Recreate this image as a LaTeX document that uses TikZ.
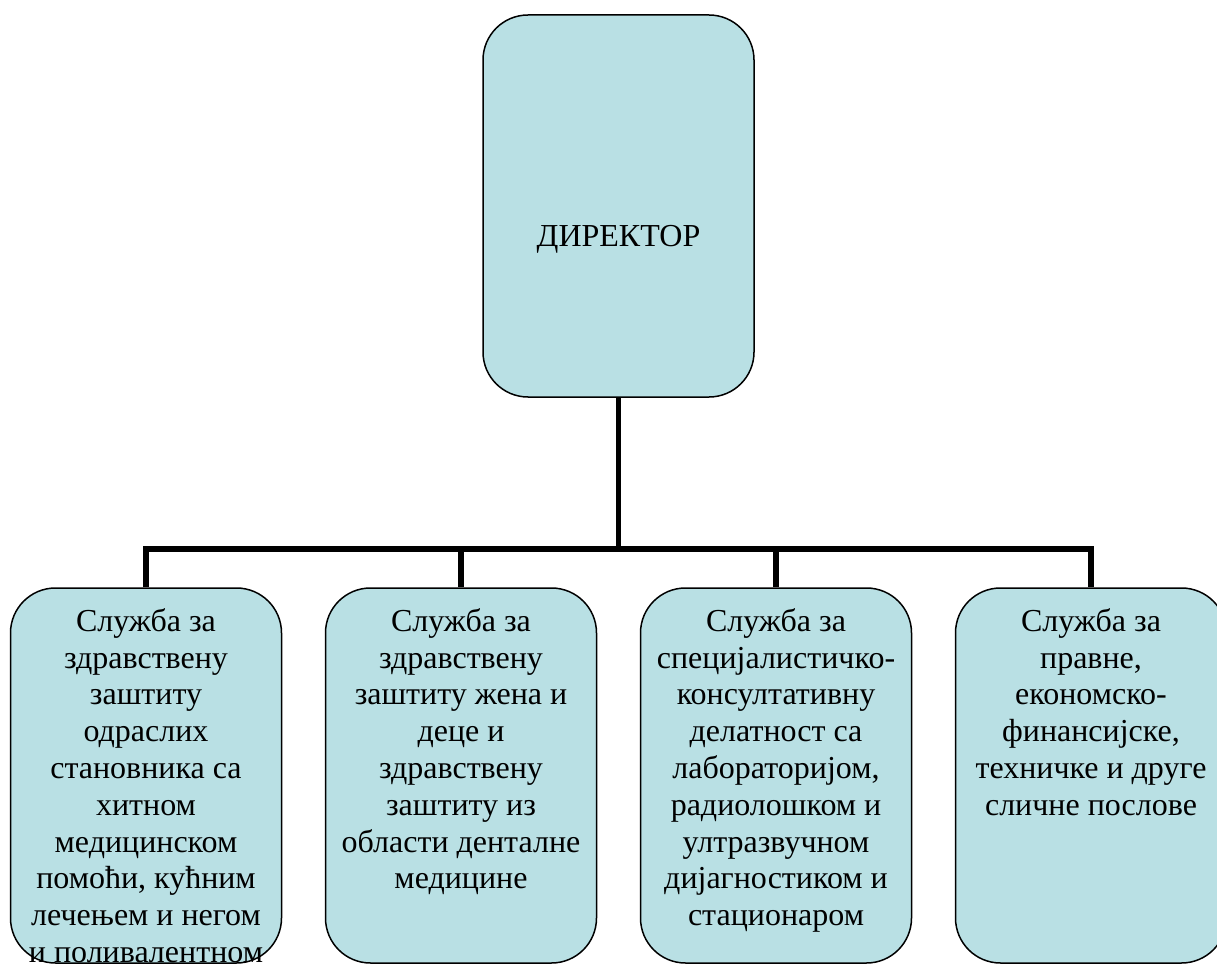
\documentclass[tikz,border=0pt]{standalone}
\usepackage{fontspec}
\setmainfont{Liberation Serif}
\usepackage{xcolor}
\usepackage{tikz}
\usetikzlibrary{positioning,calc}
\definecolor{boxfill}{RGB}{185,224,228}

\begin{document}
\begin{tikzpicture}[x=1pt,y=1pt,
  box/.style={draw,line width=1.5pt,fill=boxfill,rounded corners=45pt,minimum width=271pt,inner sep=0pt},
  txt/.style={align=center,inner sep=0pt,font=\fontsize{32}{36.8}\selectfont},
  link/.style={line width=5.5pt}]
  \useasboundingbox (0,0) rectangle (1217,-965);
  \clip (0,0) rectangle (1217,-965);

  \node[box,minimum height=382pt] (dir) at (618.5,-206) {};
  \node[box,minimum height=375pt] (sb1) at (146,-775.5) {};
  \node[box,minimum height=375pt] (sb2) at (461,-775.5) {};
  \node[box,minimum height=375pt] (sb3) at (776,-775.5) {};
  \node[box,minimum height=375pt] (sb4) at (1091,-775.5) {};
  \coordinate (fork) at (618.5,-549);

  \draw[link] (dir.south) -- (fork);
  \draw[link] (sb1.north) |- (fork) -| (sb4.north);
  \draw[link] (fork -| sb2.north) -- (sb2.north);
  \draw[link] (fork -| sb3.north) -- (sb3.north);

  \node[txt,anchor=base] (dirtxt) at (618.5,-247) {ДИРЕКТОР};
  \node[txt,anchor=north] (t1) at ([yshift=-21pt]sb1.north) {Служба за\\здравствену\\заштиту\\одраслих\\становника са\\хитном\\медицинском\\помоћи, кућним\\лечењем и негом\\и поливалентном};
  \node[txt,anchor=north] (t2) at ([yshift=-21pt]sb2.north) {Служба за\\здравствену\\заштиту жена и\\деце и\\здравствену\\заштиту из\\области денталне\\медицине};
  \node[txt,anchor=north] (t3) at ([yshift=-21pt]sb3.north) {Служба за\\специјалистичко-\\консултативну\\делатност са\\лабораторијом,\\радиолошком и\\ултразвучном\\дијагностиком и\\стационаром};
  \node[txt,anchor=north] (t4) at ([yshift=-21pt]sb4.north) {Служба за\\правне,\\економско-\\финансијске,\\техничке и друге\\сличне послове};
\end{tikzpicture}
\end{document}
